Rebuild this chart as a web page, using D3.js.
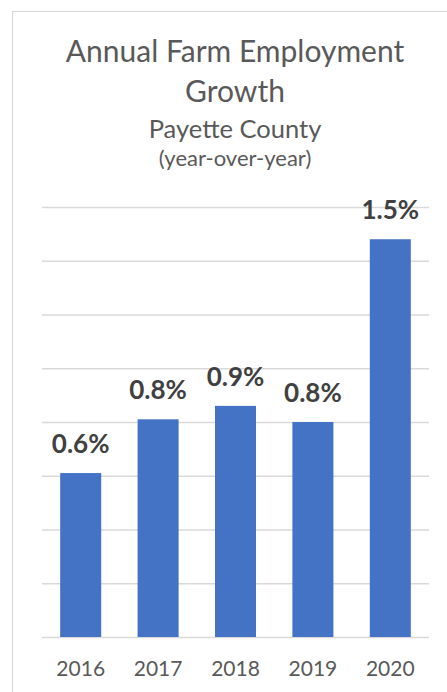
<!DOCTYPE html>
<html>
<head>
<meta charset="utf-8">
<script src="https://cdn.jsdelivr.net/npm/d3@7"></script>
<style>
  html, body { margin: 0; padding: 0; background: #fff; }
  svg { display: block; }
  text { font-family: Lato, "Open Sans", sans-serif; }
</style>
</head>
<body>
<svg id="chart" width="447" height="692"></svg>
<script>
// Annual farm employment growth, Payette County (year-over-year)
const years = ["2016", "2017", "2018", "2019", "2020"];
const growth = [0.0061, 0.0081, 0.0086, 0.0080, 0.0148];
const gridTicks = [0, 0.002, 0.004, 0.006, 0.008, 0.010, 0.012, 0.014, 0.016];
const titleLines = ["Annual Farm Employment", "Growth"];
const subtitle = "Payette County";
const note = "(year-over-year)";

const svg = d3.select("#chart");

// chart frame
svg.append("rect")
  .attr("x", 12.5).attr("y", 11.5)
  .attr("width", 460).attr("height", 700)
  .attr("fill", "#fff").attr("stroke", "#d9d9d9").attr("stroke-width", 1.2);

const plot = { left: 42, right: 429, top: 207, bottom: 637 };

const x = d3.scaleBand()
  .domain(years)
  .range([plot.left, plot.right])
  .paddingInner(0.47)
  .paddingOuter(0.235);

const y = d3.scaleLinear()
  .domain([0, 0.016])
  .range([plot.bottom, plot.top]);

// horizontal gridlines
const grid = d3.axisLeft(y)
  .tickValues(gridTicks)
  .tickSize(-(plot.right - plot.left))
  .tickFormat("");
svg.append("g")
  .attr("transform", `translate(${plot.left},0)`)
  .call(grid)
  .call(g => g.select(".domain").remove())
  .call(g => g.selectAll(".tick line").attr("stroke", "#d9d9d9").attr("stroke-width", 1.3));

// bars
const rows = years.map((yr, i) => ({ yr, v: growth[i] }));
svg.append("g").selectAll("rect")
  .data(rows)
  .join("rect")
  .attr("x", d => x(d.yr))
  .attr("y", d => y(d.v))
  .attr("width", x.bandwidth())
  .attr("height", d => y(0) - y(d.v))
  .attr("fill", "#4472c4");

// value labels
const fmt = d3.format(".1%");
svg.append("g").selectAll("text")
  .data(rows)
  .join("text")
  .attr("x", d => x(d.yr) + x.bandwidth() / 2)
  .attr("y", d => y(d.v) - 20)
  .attr("text-anchor", "middle")
  .attr("font-size", 26)
  .attr("font-weight", 700)
  .attr("fill", "#404040")
  .text(d => fmt(d.v));

// category axis
const xAxis = d3.axisBottom(x).tickSize(0).tickPadding(0);
svg.append("g")
  .attr("transform", `translate(0,${plot.bottom})`)
  .call(xAxis)
  .call(g => g.select(".domain").remove())
  .call(g => g.selectAll(".tick text")
    .attr("dy", null)
    .attr("y", 39)
    .attr("font-size", 21)
    .attr("font-family", "Lato, sans-serif")
    .attr("fill", "#595959"));

// titles
const cx = 235;
svg.append("g").selectAll("text")
  .data(titleLines)
  .join("text")
  .attr("x", cx)
  .attr("y", (d, i) => 62 + i * 39.5)
  .attr("text-anchor", "middle")
  .attr("font-size", 30)
  .attr("fill", "#595959")
  .text(d => d);

svg.append("text")
  .attr("x", cx).attr("y", 138)
  .attr("text-anchor", "middle")
  .attr("font-size", 25.5)
  .attr("fill", "#595959")
  .text(subtitle);

svg.append("text")
  .attr("x", cx).attr("y", 166)
  .attr("text-anchor", "middle")
  .attr("font-size", 22)
  .attr("fill", "#595959")
  .text(note);
</script>
</body>
</html>
